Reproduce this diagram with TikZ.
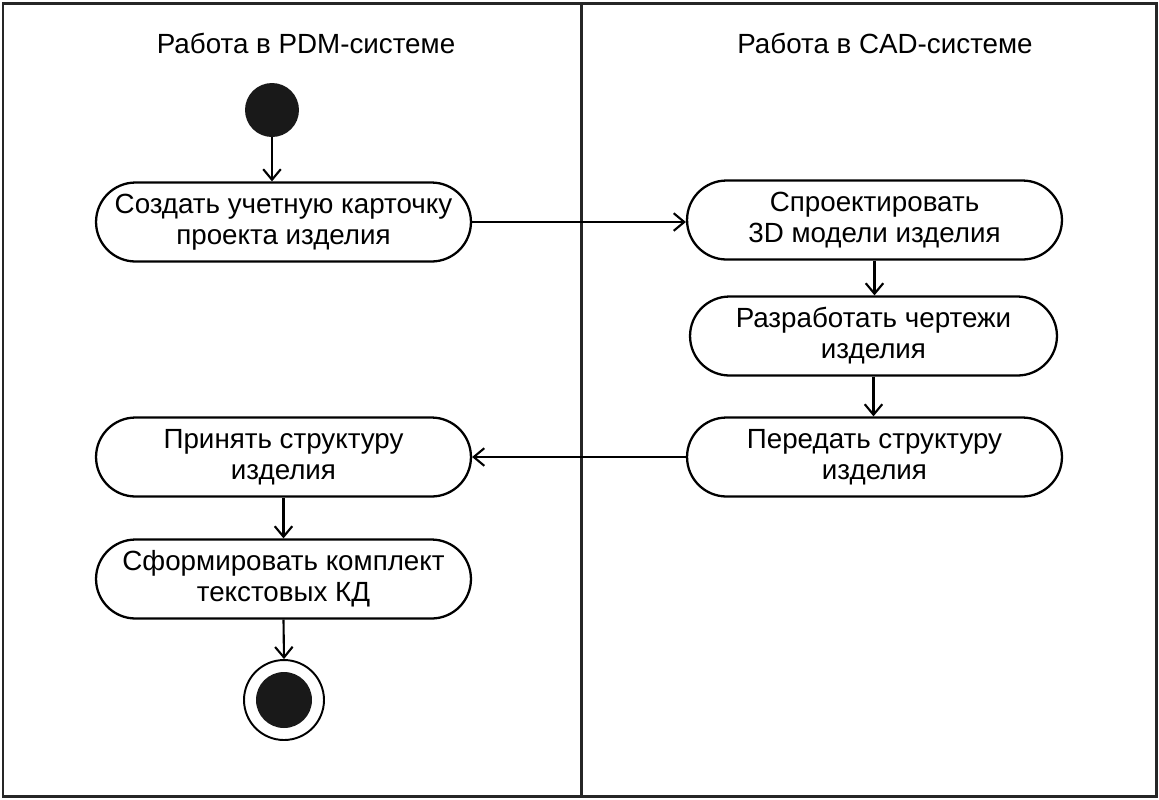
\documentclass[tikz,border=0pt]{standalone}
\usepackage{fontspec}
\setmainfont{Liberation Sans}
\usetikzlibrary{arrows.meta,shapes.misc}

\begin{document}
\begin{tikzpicture}[x=0.02cm,y=-0.02cm,
    lane/.style={anchor=base,font=\fontsize{15.8}{19}\selectfont},
    action/.style={draw,line width=1.3pt,rounded rectangle,minimum width=7.5cm,
      minimum height=1.58cm,inner sep=0pt,align=center,
      font=\fontsize{15.8}{17.6}\selectfont},
    flow/.style={-{Straight Barb[length=6pt,width=10pt]},line width=1.2pt}]
  \useasboundingbox (0,0) rectangle (1159,799);
  \draw[line width=1.7pt,black!85] (3,3) rectangle (1156,796);
  \draw[line width=1.7pt,black!85] (581,3) -- (581,796);
  \draw
    (306,53) node[lane] (pdm){Работа в PDM-системе}
    (885,53) node[lane] (cad){Работа в CAD-системе};
  \draw
    (272,110) node[circle,fill=black!90,minimum size=1.08cm,inner sep=0pt] (start){}
    (283.5,222) node[action] (create){Создать учетную карточку\\проекта изделия}
    (874.5,220) node[action] (design){Спроектировать\\3D модели изделия}
    (873.5,336) node[action,minimum width=7.34cm] (drawings){Разработать чертежи\\изделия}
    (874.5,457) node[action] (pass){Передать структуру\\изделия}
    (283.5,457) node[action] (take){Принять структуру\\изделия}
    (283.5,579) node[action] (form){Сформировать комплект\\текстовых КД}
    (284,700) node[circle,draw,line width=1.1pt,minimum size=1.6cm,inner sep=0pt] (final){};
  \node[circle,fill=black!90,minimum size=1.12cm,inner sep=0pt] (finaldot) at (final.center){};
  \begin{scope}[flow]
    \draw (start) -- (start |- create.north);
    \draw (create.east) -- (design.west |- create.east);
    \draw (design.south) -- (design.south |- drawings.north);
    \draw (drawings.south) -- (drawings.south |- pass.north);
    \draw (pass.west) -- (take.east);
    \draw (take.south) -- (form.north);
    \draw (form.south) -- (final.north);
  \end{scope}
\end{tikzpicture}
\end{document}
